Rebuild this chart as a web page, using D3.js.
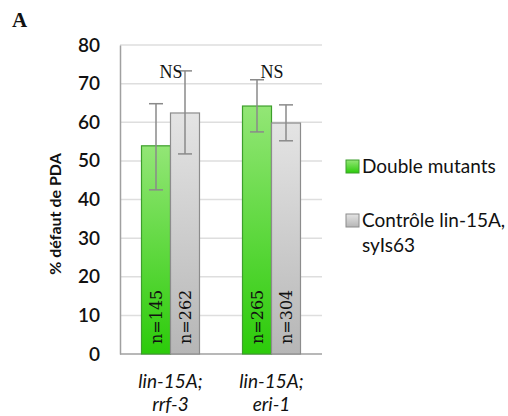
<!DOCTYPE html>
<html><head><meta charset="utf-8">
<script src="https://cdn.jsdelivr.net/npm/d3@7"></script>
<style>body{margin:0;background:#fff}svg{display:block}</style>
</head><body>
<svg id="c" width="508" height="416"></svg>
<script>
const categories = [["lin-15A;", "rrf-3"], ["lin-15A;", "eri-1"]];
const seriesNames = ["Double mutants", "Contrôle lin-15A, syIs63"];
const doubleMutants = [53.9, 64.2];
const doubleErrLow = [42.5, 57.5];
const doubleErrHigh = [64.8, 71.0];
const controle = [62.4, 59.8];
const controleErrLow = [51.8, 55.2];
const controleErrHigh = [73.3, 64.5];
const nDouble = ["n=145", "n=265"];
const nControle = ["n=262", "n=304"];
const signif = ["NS", "NS"];
const yTicks = [0, 10, 20, 30, 40, 50, 60, 70, 80];

(function () {
const svg = d3.select("#c");
const pL = 120, pR = 322, pT = 45, pB = 354;
const x = d3.scaleBand().domain(d3.range(categories.length)).range([pL, pR]).padding(0);
const sub = d3.scaleBand().domain([0, 1]).range([0, 58]);
const subOff = (x.bandwidth() - 58) / 2;
const y = d3.scaleLinear().domain([0, 80]).range([pB, pT]);

const defs = svg.append("defs");
const g1 = defs.append("linearGradient").attr("id", "gG").attr("x1", 0).attr("y1", 0).attr("x2", 0).attr("y2", 1);
g1.append("stop").attr("offset", "0%").attr("stop-color", "#93e676");
g1.append("stop").attr("offset", "100%").attr("stop-color", "#2ccb0a");
const g2 = defs.append("linearGradient").attr("id", "gY").attr("x1", 0).attr("y1", 0).attr("x2", 0).attr("y2", 1);
g2.append("stop").attr("offset", "0%").attr("stop-color", "#e4e4e4");
g2.append("stop").attr("offset", "100%").attr("stop-color", "#b6b6b6");

svg.append("g").selectAll("line").data(yTicks.filter(d => d > 0)).join("line")
  .attr("x1", pL).attr("x2", pR).attr("y1", d => y(d)).attr("y2", d => y(d))
  .attr("stroke", "#dedede").attr("stroke-width", 1.5);

const yAxis = svg.append("g").attr("transform", `translate(${pL},0)`)
  .call(d3.axisLeft(y).tickValues(yTicks).tickSize(0).tickPadding(20));
yAxis.select(".domain").attr("stroke", "#a0a0a0").attr("stroke-width", 1.5);
yAxis.selectAll("text").attr("font-family", "Lato, 'Open Sans', sans-serif")
  .attr("font-size", 19).attr("font-weight", 600).attr("fill", "#111").attr("text-anchor", "end");

svg.append("line").attr("x1", pL).attr("x2", pR).attr("y1", pB).attr("y2", pB)
  .attr("stroke", "#a0a0a0").attr("stroke-width", 1.5);

const series = [
  {vals: doubleMutants, lo: doubleErrLow, hi: doubleErrHigh, fill: "url(#gG)", stroke: "#3d9e2c", n: nDouble},
  {vals: controle, lo: controleErrLow, hi: controleErrHigh, fill: "url(#gY)", stroke: "#8c8c8c", n: nControle}
];

series.forEach((s, si) => {
  const gx = i => x(i) + subOff + sub(si);
  svg.append("g").selectAll("rect").data(s.vals).join("rect")
    .attr("x", (d, i) => gx(i)).attr("y", d => y(d))
    .attr("width", sub.bandwidth()).attr("height", d => pB - y(d))
    .attr("fill", s.fill).attr("stroke", s.stroke).attr("stroke-width", 1.2);
  svg.append("g").selectAll("text").data(s.n).join("text")
    .attr("transform", (d, i) => `translate(${gx(i) + sub.bandwidth() / 2 + 6},${pB - 10}) rotate(-90)`)
    .attr("font-family", "'DejaVu Serif', serif").attr("font-size", 16).attr("fill", "#111")
    .text(d => d);
  const eb = svg.append("g").attr("stroke", "#8a8a8a").attr("stroke-width", 1.5);
  s.vals.forEach((v, i) => {
    const cx = gx(i) + sub.bandwidth() / 2;
    eb.append("line").attr("x1", cx).attr("x2", cx).attr("y1", y(s.lo[i])).attr("y2", y(s.hi[i]));
    eb.append("line").attr("x1", cx - 7).attr("x2", cx + 7).attr("y1", y(s.lo[i])).attr("y2", y(s.lo[i]));
    eb.append("line").attr("x1", cx - 7).attr("x2", cx + 7).attr("y1", y(s.hi[i])).attr("y2", y(s.hi[i]));
  });
});

svg.append("g").selectAll("text").data(signif).join("text")
  .attr("x", (d, i) => x(i) + x.bandwidth() / 2 + 0.5).attr("y", 78)
  .attr("text-anchor", "middle").attr("font-family", "'Liberation Serif', serif").attr("font-size", 18)
  .attr("fill", "#111").text(d => d);

const cat = svg.append("g").selectAll("text").data(categories).join("text")
  .attr("text-anchor", "middle").attr("font-family", "Lato, 'Open Sans', sans-serif")
  .attr("font-size", 19).attr("font-style", "italic").attr("fill", "#111");
cat.selectAll("tspan").data((d, i) => d.map(t => ({t, i}))).join("tspan")
  .attr("x", d => x(d.i) + x.bandwidth() / 2).attr("y", (d, j) => 388 + j * 23).text(d => d.t);

svg.append("text").attr("transform", "translate(61,214) rotate(-90)")
  .attr("text-anchor", "middle").attr("font-family", "Lato, 'Open Sans', sans-serif")
  .attr("font-size", 16).attr("font-weight", 700).attr("fill", "#111").text("% défaut de PDA");

svg.append("text").attr("x", 12).attr("y", 27).attr("font-family", "'Liberation Serif', serif")
  .attr("font-size", 21).attr("font-weight", 700).attr("fill", "#111").text("A");

const leg = [
  {fill: "url(#gG)", stroke: "#3d9e2c", lines: [seriesNames[0]], y: 160},
  {fill: "url(#gY)", stroke: "#8c8c8c", lines: ["Contrôle lin-15A,", "syIs63"], y: 214}
];
leg.forEach(l => {
  svg.append("rect").attr("x", 346).attr("y", l.y).attr("width", 13).attr("height", 13)
    .attr("fill", l.fill).attr("stroke", l.stroke).attr("stroke-width", 1);
  const t = svg.append("text").attr("font-family", "Lato, 'Open Sans', sans-serif")
    .attr("font-size", 19).attr("fill", "#111");
  l.lines.forEach((s, j) => t.append("tspan").attr("x", 362).attr("y", l.y + 13 + j * 25).text(s));
});
})();
</script>
</body></html>
